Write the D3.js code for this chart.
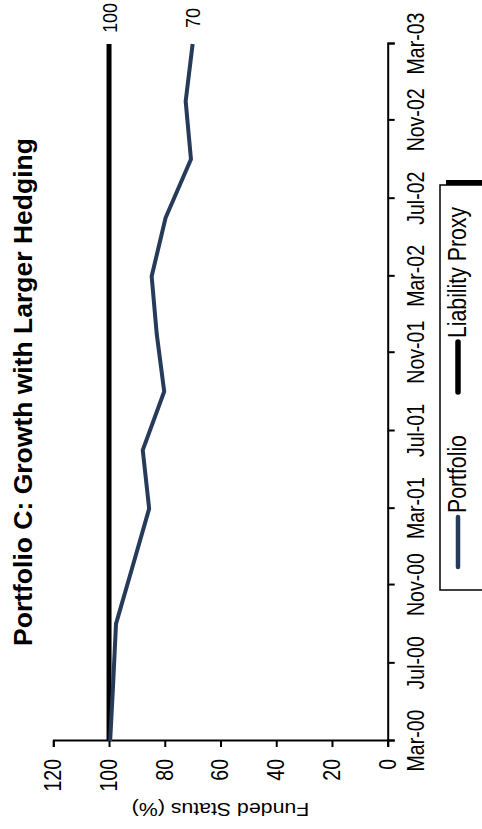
<!DOCTYPE html>
<html>
<head>
<meta charset="utf-8">
<script src="https://cdn.jsdelivr.net/npm/d3@7"></script>
<style>
  html, body { margin: 0; padding: 0; background: #fff; }
  svg { display: block; font-family: Arial, "Liberation Sans", sans-serif; }
</style>
</head>
<body>
<script>
// Quarterly funded status, Mar-00 through Mar-03
const dates = ["2000-03", "2000-06", "2000-09", "2000-12", "2001-03", "2001-06",
               "2001-09", "2001-12", "2002-03", "2002-06", "2002-09", "2002-12", "2003-03"];
const portfolio = [99.6, 98.5, 97.5, 91.5, 85.6, 87.9, 80.2, 82.9, 84.7, 79.7, 70.6, 72.5, 70];
const liability = [100, 100, 100, 100, 100, 100, 100, 100, 100, 100, 100, 100, 100];
const xTicks = ["2000-03", "2000-07", "2000-11", "2001-03", "2001-07", "2001-11",
                "2002-03", "2002-07", "2002-11", "2003-03"];
const yTicks = [0, 20, 40, 60, 80, 100, 120];
const seriesNames = ["Portfolio", "Liability Proxy"];

const W = 482, H = 829;            // page size
const SX = 0.85;                   // narrow text along the time direction
const parse = d3.timeParse("%Y-%m");

const svg = d3.select("body").append("svg")
  .attr("width", W).attr("height", H);

// chart is laid out landscape, then turned a quarter turn counter-clockwise
const g = svg.append("g")
  .attr("transform", `translate(0,${H}) rotate(-90)`);

const x = d3.scaleTime()
  .domain([parse("2000-03"), parse("2003-03")])
  .range([88, 785]);
const y = d3.scaleLinear().domain([0, 120]).range([387.7, 53.3]);

// Title
g.append("text")
  .attr("x", 437).attr("y", 32)
  .attr("text-anchor", "middle")
  .attr("font-weight", "bold")
  .attr("font-size", 26.5)
  .text("Portfolio C: Growth with Larger Hedging");

// Axes
const xAxis = g.append("g")
  .attr("transform", `translate(0,${y(0)})`)
  .call(d3.axisBottom(x)
    .tickValues(xTicks.map(parse))
    .tickSize(7).tickPadding(13)
    .tickFormat(d3.timeFormat("%b-%y")));

const yAxis = g.append("g")
  .attr("transform", `translate(${x(parse("2000-03"))},0)`)
  .call(d3.axisLeft(y).tickValues(yTicks).tickSize(6).tickPadding(12));

[xAxis, yAxis].forEach(a => {
  a.select(".domain").attr("stroke", "#000").attr("stroke-width", 2);
  a.selectAll(".tick line").attr("stroke", "#000").attr("stroke-width", 2);
  a.selectAll(".tick text").attr("fill", "#000").attr("font-size", 23)
    .attr("font-family", "Arial, 'Liberation Sans', sans-serif")
    .attr("transform", `scale(${SX},1)`);
});
yAxis.selectAll(".tick text").attr("x", -18 / SX);

// Axis title
g.append("text")
  .attr("transform", `translate(26,${(y(0) + y(120)) / 2}) scale(${SX},1) rotate(-90)`)
  .attr("text-anchor", "middle")
  .attr("font-size", 21.3)
  .text("Funded Status (%)");

// Lines
const line = vals => d3.line()
  .x((d, i) => x(parse(dates[i])))
  .y(d => y(d))(vals);

g.append("path")
  .attr("d", line(liability))
  .attr("fill", "none").attr("stroke", "#000").attr("stroke-width", 5);

g.append("path")
  .attr("d", line(portfolio))
  .attr("fill", "none").attr("stroke", "#263a5a").attr("stroke-width", 4)
  .attr("stroke-linejoin", "round");

// End-of-line value labels
[[liability, 100], [portfolio, 70]].forEach(([vals, label]) => {
  g.append("text")
    .attr("transform", `translate(811,${y(vals[vals.length - 1])}) scale(${SX},1)`)
    .attr("text-anchor", "middle")
    .attr("dominant-baseline", "central")
    .attr("font-size", 21)
    .text(label);
});

// Legend
const lg = g.append("g");
lg.append("rect")
  .attr("x", 244).attr("y", 446).attr("width", 405).attr("height", 80)
  .attr("fill", "#000");
lg.append("rect")
  .attr("x", 239).attr("y", 440).attr("width", 405).attr("height", 80)
  .attr("fill", "#fff").attr("stroke", "#000").attr("stroke-width", 1.5);

const legendItems = [
  { name: seriesNames[0], color: "#263a5a", w: 4.5, x0: 262 },
  { name: seriesNames[1], color: "#000", w: 5.5, x0: 437 }
];
legendItems.forEach(it => {
  lg.append("line")
    .attr("x1", it.x0).attr("x2", it.x0 + 50)
    .attr("y1", 458).attr("y2", 458)
    .attr("stroke", it.color).attr("stroke-width", it.w)
    .attr("stroke-linecap", "round");
  lg.append("text")
    .attr("transform", `translate(${it.x0 + 54},466) scale(${SX},1)`)
    .attr("font-size", 25)
    .text(it.name);
});
</script>
</body>
</html>
